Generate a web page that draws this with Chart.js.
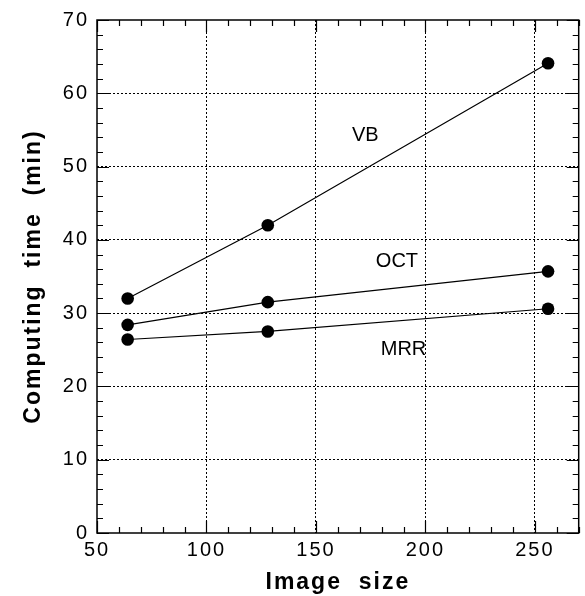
<!DOCTYPE html>
<html>
<head>
<meta charset="utf-8">
<script src="https://cdn.jsdelivr.net/npm/chart.js@4"></script>
<style>
  html, body { margin: 0; padding: 0; background: #fff; }
  #wrap { width: 585px; height: 596px; }
</style>
</head>
<body>
<div id="wrap"><canvas id="timeChart"></canvas></div>
<script>
// computing time vs image size, three methods
const imageSizes = [64, 128, 256];
const vbTimes = [32, 42, 64.1];
const octTimes = [28.4, 31.5, 35.7];
const mrrTimes = [26.4, 27.5, 30.6];
const seriesNames = ['VB', 'OCT', 'MRR'];

const xTickLabels = [50, 100, 150, 200, 250];
const yTickLabels = [0, 10, 20, 30, 40, 50, 60, 70];

// where the series names sit, in data units
const nameX = [172.5, 187, 190];
const nameY = [54.2, 37, 25];

const FONT = '"Liberation Sans", Arial, Helvetica, sans-serif';
const INK = '#000';

function series(label, values) {
  return {
    label: label,
    data: imageSizes.map((x, i) => ({ x: x, y: values[i] })),
    borderColor: INK,
    backgroundColor: INK,
    borderWidth: 1.2,
    pointRadius: 6.3,
    pointBackgroundColor: INK,
    pointBorderWidth: 0,
    showLine: true,
    tension: 0,
  };
}

const framePlugin = {
  id: 'frame',
  beforeLayout(chart) { chart.ctx.letterSpacing = '2px'; },
  beforeDraw(chart) { chart.ctx.letterSpacing = '2px'; },
  afterDraw(chart) {
    const { ctx, chartArea: a, scales: { x, y } } = chart;
    ctx.save();
    ctx.strokeStyle = INK;
    ctx.lineWidth = 1.5;
    ctx.strokeRect(a.left, a.top, a.right - a.left, a.bottom - a.top);

    // inward tick marks on all four sides
    ctx.lineWidth = 1.2;
    ctx.beginPath();
    x.ticks.forEach(t => {
      const px = Math.round(x.getPixelForValue(t.value)) + 0.5;
      const len = t.value % 50 === 0 ? 12 : 6;
      ctx.moveTo(px, a.bottom); ctx.lineTo(px, a.bottom - len);
      ctx.moveTo(px, a.top); ctx.lineTo(px, a.top + len);
    });
    y.ticks.forEach(t => {
      const py = Math.round(y.getPixelForValue(t.value)) + 0.5;
      const len = t.value % 10 === 0 ? 12 : 6;
      ctx.moveTo(a.left, py); ctx.lineTo(a.left + len, py);
      ctx.moveTo(a.right, py); ctx.lineTo(a.right - len, py);
    });
    ctx.stroke();

    // series names
    ctx.letterSpacing = '0px';
    ctx.fillStyle = INK;
    ctx.font = '20px ' + FONT;
    ctx.textAlign = 'center';
    ctx.textBaseline = 'middle';
    seriesNames.forEach((n, i) => {
      ctx.fillText(n, x.getPixelForValue(nameX[i]), y.getPixelForValue(nameY[i]));
    });
    ctx.restore();
  }
};

new Chart(document.getElementById('timeChart'), {
  type: 'scatter',
  data: {
    datasets: [
      series(seriesNames[0], vbTimes),
      series(seriesNames[1], octTimes),
      series(seriesNames[2], mrrTimes),
    ],
  },
  options: {
    responsive: true,
    maintainAspectRatio: false,
    animation: false,
    layout: { padding: { top: 20, right: 2, left: 0, bottom: 0 } },
    plugins: {
      legend: { display: false },
      tooltip: { enabled: false },
    },
    scales: {
      x: {
        type: 'linear',
        min: 50,
        max: 270,
        afterFit: s => { s.height = 63; },
        border: { display: false, dash: [2, 2] },
        grid: {
          drawTicks: false,
          lineWidth: 1,
          color: c => (c.tick && c.tick.value % 50 === 0 && c.tick.value > 50) ? INK : 'rgba(0,0,0,0)',
        },
        ticks: {
          stepSize: 10,
          autoSkip: false,
          maxRotation: 0,
          padding: 5,
          color: INK,
          font: { family: FONT, size: 20 },
          callback: v => xTickLabels.includes(v) ? String(v) : '',
        },
        title: {
          display: true,
          text: 'Image  size',
          color: INK,
          font: { family: FONT, size: 23, weight: 'bold' },
          padding: { top: 0, bottom: 0 },
        },
      },
      y: {
        type: 'linear',
        min: 0,
        max: 70,
        afterFit: s => { s.width = 97; },
        border: { display: false, dash: [2, 2] },
        grid: {
          drawTicks: false,
          lineWidth: 1,
          color: c => (c.tick && c.tick.value % 10 === 0 && c.tick.value > 0 && c.tick.value < 70) ? INK : 'rgba(0,0,0,0)',
        },
        ticks: {
          stepSize: 2,
          autoSkip: false,
          padding: 8,
          color: INK,
          font: { family: FONT, size: 20 },
          callback: v => yTickLabels.includes(v) ? String(v) : '',
        },
        title: {
          display: true,
          text: 'Computing  time  (min)',
          color: INK,
          font: { family: FONT, size: 23, weight: 'bold' },
          padding: { top: 20, bottom: 0 },
        },
      },
    },
  },
  plugins: [framePlugin],
});
</script>
</body>
</html>
